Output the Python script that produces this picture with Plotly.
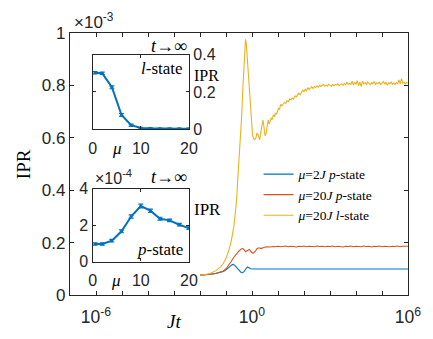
import plotly.graph_objects as go

# ---------------- main panel data: log10(Jt) and IPR (units of 1e-3) ----------------
logt_mu2_p = [-2.0, -1.8, -1.6, -1.4, -1.2, -1.1, -1.0, -0.9, -0.8, -0.75, -0.68, -0.6, -0.5,
              -0.42, -0.36, -0.3, -0.22, -0.17, -0.12, -0.05, 0.05, 0.2, 0.5, 1.0, 2.0, 3.0,
              4.0, 5.0, 6.0]
ipr_mu2_p = [0.076, 0.077, 0.079, 0.082, 0.086, 0.090, 0.096, 0.104, 0.113, 0.117, 0.115,
             0.105, 0.092, 0.086, 0.085, 0.090, 0.102, 0.107, 0.104, 0.100, 0.099, 0.099,
             0.099, 0.099, 0.099, 0.099, 0.099, 0.099, 0.099]

logt_mu20_p = [-2.0, -1.8, -1.6, -1.4, -1.2, -1.1, -1.0, -0.9, -0.8, -0.7, -0.6, -0.5, -0.42,
               -0.36, -0.3, -0.25, -0.18, -0.1, -0.04, 0.04, 0.12, 0.2, 0.27, 0.35, 0.45, 0.55,
               0.7, 0.8, 0.9, 1.0, 1.1, 1.2, 1.3, 1.4, 1.5, 1.6, 1.7, 1.8, 1.9, 2.0, 2.1, 2.2,
               2.3, 2.4, 2.5, 2.6, 2.7, 2.8, 2.9, 3.0, 3.1, 3.2, 3.3, 3.4, 3.5, 3.6, 3.7, 3.8,
               3.9, 4.0, 4.1, 4.2, 4.3, 4.4, 4.5, 4.6, 4.7, 4.8, 4.9, 5.0, 5.1, 5.2, 5.3, 5.4,
               5.5, 5.6, 5.7, 5.8, 5.9, 6.0]
ipr_mu20_p = [0.076, 0.077, 0.079, 0.082, 0.087, 0.092, 0.100, 0.112, 0.128, 0.144, 0.157,
              0.168, 0.175, 0.178, 0.172, 0.165, 0.170, 0.174, 0.166, 0.159, 0.166, 0.178,
              0.180, 0.177, 0.181, 0.184, 0.183, 0.185, 0.184, 0.186, 0.184, 0.185, 0.187,
              0.184, 0.186, 0.185, 0.183, 0.186, 0.185, 0.187, 0.184, 0.186, 0.185, 0.184,
              0.187, 0.185, 0.186, 0.184, 0.186, 0.185, 0.187, 0.184, 0.186, 0.185, 0.183,
              0.186, 0.185, 0.187, 0.184, 0.186, 0.185, 0.184, 0.187, 0.185, 0.186, 0.183,
              0.186, 0.185, 0.187, 0.184, 0.186, 0.185, 0.184, 0.186, 0.185, 0.187, 0.184,
              0.186, 0.185, 0.186]

logt_mu20_l = [-2.0, -1.8, -1.6, -1.4, -1.2, -1.1, -1.0, -0.9, -0.8, -0.7, -0.6, -0.5, -0.45,
               -0.4, -0.35, -0.3, -0.27, -0.25, -0.22, -0.18, -0.14, -0.1, -0.06, -0.02, 0.02,
               0.06, 0.1, 0.15, 0.19, 0.22, 0.26, 0.3, 0.34, 0.38, 0.42, 0.46, 0.5, 0.54, 0.58,
               0.62, 0.66, 0.7, 0.74, 0.78, 0.82, 0.86, 0.9, 0.94, 0.98, 1.02, 1.06, 1.1, 1.15,
               1.2, 1.25, 1.3, 1.35, 1.4, 1.45, 1.5, 1.55, 1.6, 1.65, 1.7, 1.75, 1.8, 1.85, 1.9,
               1.95, 2.0, 2.05, 2.1, 2.15, 2.2, 2.25, 2.3, 2.35, 2.4, 2.45, 2.5, 2.55, 2.6, 2.65,
               2.7, 2.75, 2.8, 2.85, 2.9, 2.95, 3.0, 3.05, 3.1, 3.15, 3.2, 3.25, 3.3, 3.35, 3.4,
               3.45, 3.5, 3.55, 3.6, 3.65, 3.7, 3.75, 3.8, 3.85, 3.9, 3.95, 4.0, 4.05, 4.1, 4.15,
               4.2, 4.25, 4.3, 4.35, 4.4, 4.45, 4.5, 4.55, 4.6, 4.65, 4.7, 4.75, 4.8, 4.85, 4.9,
               4.95, 5.0, 5.05, 5.1, 5.15, 5.2, 5.25, 5.3, 5.35, 5.4, 5.45, 5.5, 5.55, 5.6, 5.65,
               5.7, 5.75, 5.8, 5.85, 5.9, 5.95, 6.0]
ipr_mu20_l = [0.076, 0.078, 0.083, 0.092, 0.108, 0.121, 0.140, 0.168, 0.205, 0.260, 0.355,
              0.510, 0.600, 0.680, 0.790, 0.900, 0.955, 0.976, 0.960, 0.900, 0.830, 0.760,
              0.690, 0.640, 0.612, 0.597, 0.593, 0.600, 0.617, 0.615, 0.598, 0.592, 0.622,
              0.655, 0.668, 0.642, 0.608, 0.615, 0.650, 0.668, 0.652, 0.668, 0.676, 0.669,
              0.688, 0.680, 0.695, 0.690, 0.705, 0.712, 0.708, 0.728, 0.722, 0.727, 0.735,
              0.731, 0.742, 0.738, 0.748, 0.745, 0.752, 0.748, 0.760, 0.756, 0.766, 0.770,
              0.764, 0.772, 0.782, 0.776, 0.785, 0.779, 0.792, 0.784, 0.789, 0.795, 0.788,
              0.796, 0.792, 0.798, 0.793, 0.800, 0.796, 0.799, 0.803, 0.797, 0.801, 0.798,
              0.804, 0.800, 0.797, 0.803, 0.799, 0.804, 0.801, 0.806, 0.799, 0.803, 0.806,
              0.801, 0.807, 0.803, 0.812, 0.804, 0.808, 0.803, 0.816, 0.802, 0.811, 0.805,
              0.818, 0.799, 0.812, 0.795, 0.816, 0.806, 0.811, 0.804, 0.813, 0.807, 0.803,
              0.811, 0.806, 0.815, 0.804, 0.810, 0.807, 0.812, 0.803, 0.809, 0.815, 0.806,
              0.811, 0.802, 0.810, 0.806, 0.813, 0.805, 0.809, 0.803, 0.811, 0.807, 0.821,
              0.806, 0.826, 0.808, 0.812, 0.806, 0.811, 0.809]

# ---------------- inset data: t -> infinity IPR vs mu ----------------
mu_vals = [0.5, 2, 4, 6, 8, 10, 12, 14, 16, 18, 20]
ipr_l_inf = [0.303, 0.300, 0.225, 0.076, 0.021, 0.006, 0.004, 0.002, 0.002, 0.002, 0.002]
ipr_l_err = [0.006, 0.006, 0.008, 0.008, 0.006, 0.004, 0.003, 0.003, 0.003, 0.003, 0.003]
ipr_p_inf = [0.97, 0.97, 1.15, 1.67, 2.48, 3.06, 2.80, 2.36, 2.27, 2.03, 1.84]   # x 1e-4
ipr_p_err = [0.06, 0.06, 0.07, 0.08, 0.09, 0.10, 0.09, 0.08, 0.07, 0.07, 0.07]

main_xticks_exp = list(range(-7, 7))
main_xlabels_exp = [-6, 0, 6]

BLUE = '#0072BD'
RED = '#D95319'
YEL = '#EDB120'
AX = '#262626'
SANS = 'Liberation Sans, Arial, sans-serif'
SERIF = 'Liberation Serif, Times New Roman, serif'

fig = go.Figure()
fig.add_trace(go.Scatter(x=[10 ** v for v in logt_mu2_p], y=ipr_mu2_p, mode='lines',
                         line=dict(color=BLUE, width=1.1),
                         name='<i>μ</i>=2<i>J</i> <i>p</i>-state'))
fig.add_trace(go.Scatter(x=[10 ** v for v in logt_mu20_p], y=ipr_mu20_p, mode='lines',
                         line=dict(color=RED, width=1.1),
                         name='<i>μ</i>=20<i>J</i> <i>p</i>-state'))
fig.add_trace(go.Scatter(x=[10 ** v for v in logt_mu20_l], y=ipr_mu20_l, mode='lines',
                         line=dict(color=YEL, width=1.1),
                         name='<i>μ</i>=20<i>J</i> <i>l</i>-state'))

fig.add_trace(go.Scatter(x=mu_vals, y=ipr_l_inf, xaxis='x2', yaxis='y2', mode='lines+markers',
                         line=dict(color=BLUE, width=2), marker=dict(size=3, color=BLUE),
                         error_y=dict(type='data', array=ipr_l_err, color=BLUE, thickness=1.2, width=2.5),
                         showlegend=False))
fig.add_trace(go.Scatter(x=mu_vals, y=ipr_p_inf, xaxis='x3', yaxis='y3', mode='lines+markers',
                         line=dict(color=BLUE, width=2), marker=dict(size=3, color=BLUE),
                         error_y=dict(type='data', array=ipr_p_err, color=BLUE, thickness=1.2, width=2.5),
                         showlegend=False))

W, H = 433, 339
L, R, T, B = 70, 15.3, 33.3, 44
pw, ph = W - L - R, H - T - B


def px_x(px):
    return (px - L) / pw


def px_y(py):
    return (H - B - py) / ph


axis_common = dict(showline=True, linecolor=AX, linewidth=1.4, mirror='ticks', ticks='inside',
                   tickcolor=AX, showgrid=False, zeroline=False)

ix0, ix1 = px_x(93.3), px_x(192.3)

fig.update_layout(
    width=W, height=H, autosize=False,
    margin=dict(l=L, r=R, t=T, b=B, pad=0),
    paper_bgcolor='white', plot_bgcolor='white',
    font=dict(family=SANS, color=AX),
    xaxis=dict(type='log', range=[-7, 6],
               tickvals=[10 ** e for e in main_xticks_exp],
               ticktext=[('10<sup>%d</sup>' % e) if e in main_xlabels_exp else '' for e in main_xticks_exp],
               ticklen=4, ticklabelstandoff=6,
               tickfont=dict(size=17.5, family=SANS, color=AX), **axis_common),
    yaxis=dict(range=[0, 1], dtick=0.2, ticklen=4,
               tickfont=dict(size=17, family=SANS, color=AX), **axis_common),
    xaxis2=dict(domain=[ix0, ix1], anchor='y2', range=[0, 20], tickvals=[0, 10, 20], ticklen=3,
                ticklabelstandoff=4,
                tickfont=dict(size=16, family=SANS, color=AX), **axis_common),
    yaxis2=dict(domain=[px_y(129.3), px_y(55)], anchor='x2', side='right', range=[0, 0.4],
                tickvals=[0, 0.2, 0.4], ticktext=['0', '0.2', '0.4'], ticklen=3,
                tickfont=dict(size=16, family=SANS, color=AX), **axis_common),
    xaxis3=dict(domain=[ix0, ix1], anchor='y3', range=[0, 20], tickvals=[0, 10, 20], ticklen=3,
                ticklabelstandoff=4,
                tickfont=dict(size=16, family=SANS, color=AX), **axis_common),
    yaxis3=dict(domain=[px_y(261.7), px_y(189)], anchor='x3', range=[0, 4],
                tickvals=[0, 2, 4], ticklen=3,
                tickfont=dict(size=16, family=SANS, color=AX), **axis_common),
    legend=dict(x=px_x(264), y=px_y(159), xanchor='left', yanchor='top',
                bgcolor='rgba(0,0,0,0)', borderwidth=0, itemwidth=30,
                font=dict(family=SERIF, size=13.5, color='black')),
)

ann = []
# main axes labels
ann.append(dict(text='×10<sup>-3</sup>', xref='paper', yref='paper', x=px_x(72), y=px_y(21),
                xanchor='left', yanchor='middle', showarrow=False,
                font=dict(family=SANS, size=17, color=AX)))
ann.append(dict(text='IPR', xref='paper', yref='paper', x=px_x(23), y=px_y(164),
                xanchor='center', yanchor='middle', textangle=-90, showarrow=False,
                font=dict(family=SERIF, size=19, color='black')))
ann.append(dict(text='<i>Jt</i>', xref='paper', yref='paper', x=px_x(177), y=px_y(321),
                xanchor='center', yanchor='middle', showarrow=False,
                font=dict(family=SERIF, size=19, color='black')))
# inset 1 (l-state)
ann.append(dict(text='<i>t</i>→∞', xref='x2 domain', yref='paper', x=1.0, y=px_y(46),
                xanchor='right', yanchor='middle', showarrow=False,
                font=dict(family=SERIF, size=18, color='black')))
ann.append(dict(text='<i>l</i>-state', xref='x2 domain', yref='paper', x=0.96, y=px_y(69),
                xanchor='right', yanchor='middle', showarrow=False,
                font=dict(family=SERIF, size=17, color='black')))
ann.append(dict(text='IPR', xref='paper', yref='paper', x=px_x(196), y=px_y(76),
                xanchor='left', yanchor='middle', showarrow=False,
                font=dict(family=SERIF, size=16, color='black')))
ann.append(dict(text='<i>μ</i>', xref='x2', yref='paper', x=5, y=px_y(149),
                xanchor='center', yanchor='middle', showarrow=False,
                font=dict(family=SERIF, size=17, color='black')))
# inset 2 (p-state)
ann.append(dict(text='×10<sup>-4</sup>', xref='paper', yref='paper', x=px_x(94), y=px_y(177),
                xanchor='left', yanchor='middle', showarrow=False,
                font=dict(family=SANS, size=16, color=AX)))
ann.append(dict(text='<i>t</i>→∞', xref='x3 domain', yref='paper', x=1.0, y=px_y(177),
                xanchor='right', yanchor='middle', showarrow=False,
                font=dict(family=SERIF, size=18, color='black')))
ann.append(dict(text='<i>p</i>-state', xref='x3 domain', yref='paper', x=0.96, y=px_y(250),
                xanchor='right', yanchor='middle', showarrow=False,
                font=dict(family=SERIF, size=17, color='black')))
ann.append(dict(text='IPR', xref='paper', yref='paper', x=px_x(196), y=px_y(210),
                xanchor='left', yanchor='middle', showarrow=False,
                font=dict(family=SERIF, size=17, color='black')))
ann.append(dict(text='<i>μ</i>', xref='x3', yref='paper', x=4.8, y=px_y(281),
                xanchor='center', yanchor='middle', showarrow=False,
                font=dict(family=SERIF, size=17, color='black')))
fig.update_layout(annotations=ann)

fig.write_html('out.html')
